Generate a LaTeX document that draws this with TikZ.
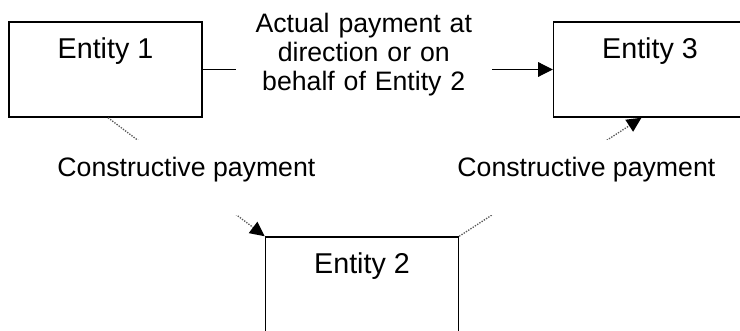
\documentclass[tikz,border=0pt]{standalone}
\usepackage{fontspec}
\setmainfont{Liberation Sans}
\usetikzlibrary{arrows.meta}

\tikzset{
  entity/.style={draw, line width=1.1pt, minimum width=144.75pt, minimum height=71.25pt, inner sep=0pt},
  etext/.style={anchor=base, yshift=-27.75pt, font=\fontsize{21.5}{24}\selectfont},
  ptext/.style={fill=white, text width=170pt, align=center, inner xsep=11pt},
  ctext/.style={fill=white, text=black, anchor=base, inner ysep=0pt, text height=27.75pt, text depth=28.5pt},
  payline/.style={line width=0.8pt, -{Triangle[length=11pt,width=11pt]}},
  dotline/.style={color=gray!70!black, line width=1pt, dash pattern=on 1pt off 1pt, -{Triangle[length=11pt,width=10.5pt,color=black,fill=black]}}
}

\begin{document}
\begin{tikzpicture}[x=0.75pt, y=-0.75pt, font=\fontsize{20}{22}\selectfont]
  \useasboundingbox (0,0) rectangle (740,331);
  \draw (105.5,69.5) node[entity, label={[etext]north:Entity 1}] (ent1) {};
  \draw (650,69.5) node[entity, label={[etext]north:Entity 3}] (ent3) {};
  \draw (362,284.5) node[entity, label={[etext]north:Entity 2}] (ent2) {};

  \path[payline] (ent1) edge node[ptext, pos=0.46, yshift=11.25pt] {Actual payment at\\ direction or on\\ behalf of Entity 2} (ent3);
  \path[dotline] (ent1.273) edge node[ctext, pos=0.5] {Constructive payment} (ent2.north west);
  \path[dotline] (ent2.north east) edge node[ctext, pos=0.5, xshift=27pt] {Constructive payment} (ent3.260);
\end{tikzpicture}
\end{document}
